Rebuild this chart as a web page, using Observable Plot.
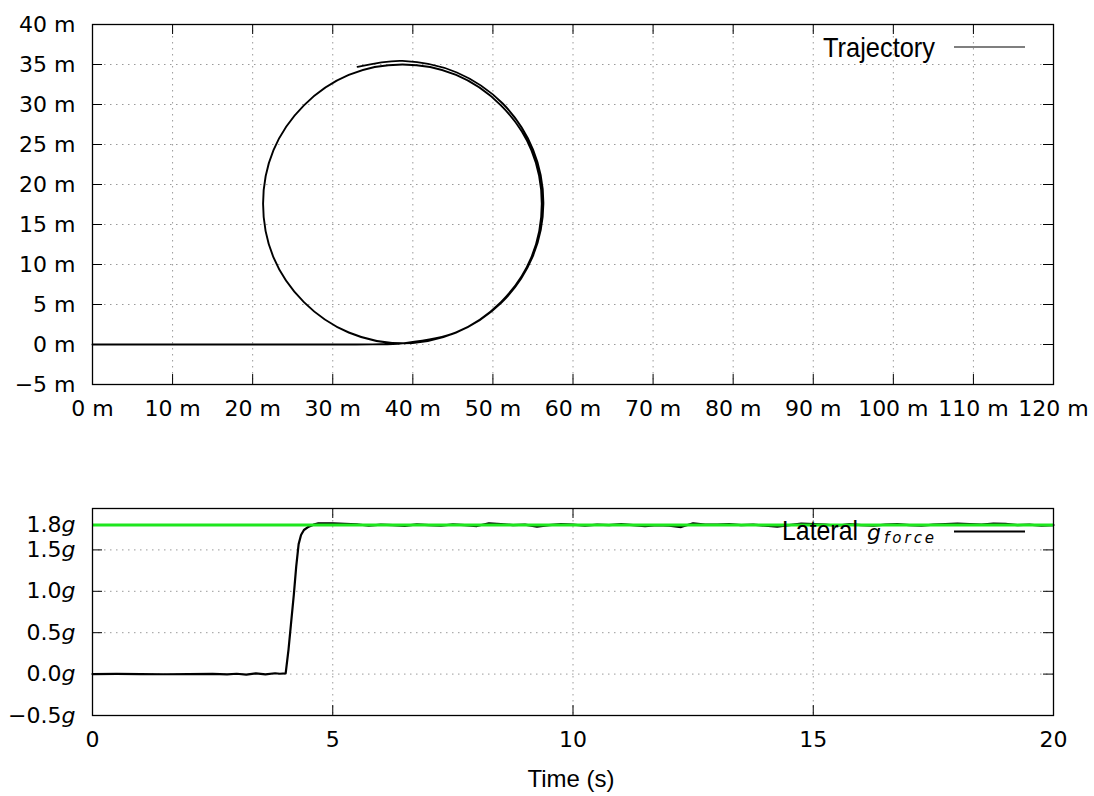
<!DOCTYPE html>
<html><head><meta charset="utf-8">
<script src="https://cdn.jsdelivr.net/npm/d3@7"></script>
<script src="https://cdn.jsdelivr.net/npm/@observablehq/plot@0.6"></script>
<style>
html,body{margin:0;padding:0;background:#fff;}
#wrap{position:relative;width:1094px;height:796px;overflow:hidden}
#wrap svg{display:block}
#overlay{position:absolute;left:0;top:0;pointer-events:none}
</style></head><body><div id="wrap"></div>
<script>
// ---- Data ----
const trajX = [0, 10, 20, 30, 35, 38.7,
  45.4, 51.0, 54.8, 56.1, 54.8, 51.0, 45.4, 38.7, 32.0, 26.4, 22.6, 21.3, 22.6, 26.4, 32.0, 38.7,
  45.38, 51.07, 54.92, 56.3, 55.01, 51.22, 45.5, 38.7, 33.1];
const trajY = [0, 0, 0, 0, 0.02, 0.15,
  1.5, 5.3, 10.9, 17.6, 24.3, 29.9, 33.7, 35.0, 33.7, 29.9, 24.3, 17.6, 10.9, 5.3, 1.5, 0.15,
  1.48, 5.23, 10.88, 17.6, 24.36, 30.12, 34.0, 35.45, 34.7];
const xTicksTop = [0, 10, 20, 30, 40, 50, 60, 70, 80, 90, 100, 110, 120];
const yTicksTop = [-5, 0, 5, 10, 15, 20, 25, 30, 35, 40];

const timeS = [0, 0.5, 1.0, 1.5, 2.0, 2.5, 2.8, 3.0, 3.2, 3.4, 3.6, 3.8, 3.9, 4.02,
  4.08, 4.13, 4.19, 4.24, 4.29, 4.34, 4.4, 4.5, 4.6, 4.7, 4.85,
  5.0, 5.25, 5.5, 5.75, 6.0, 6.25, 6.5, 6.75, 7.0, 7.25, 7.5, 7.75, 8.0, 8.25, 8.5, 8.75,
  9.0, 9.25, 9.5, 9.75, 10.0, 10.25, 10.5, 10.75, 11.0, 11.25, 11.5, 11.75, 12.0, 12.25, 12.5, 12.75,
  13.0, 13.25, 13.5, 13.75, 14.0, 14.25, 14.5, 14.75, 15.0, 15.25, 15.5, 15.75, 16.0, 16.25, 16.5, 16.75,
  17.0, 17.25, 17.5, 17.75, 18.0, 18.25, 18.5, 18.75, 19.0, 19.25, 19.5, 19.75, 20.0];
const gLateral = [0, 0.002, 0, -0.002, 0, 0.003, -0.003, 0.004, -0.006, 0.008, -0.004, 0.01, 0.004, 0.008,
  0.3, 0.6, 0.96, 1.3, 1.57, 1.68, 1.74, 1.78, 1.805, 1.82, 1.822,
  1.82, 1.815, 1.81, 1.792, 1.805, 1.80, 1.79, 1.808, 1.80, 1.792, 1.808, 1.80, 1.788, 1.822, 1.812, 1.80,
  1.806, 1.782, 1.80, 1.812, 1.806, 1.792, 1.806, 1.80, 1.812, 1.80, 1.788, 1.80, 1.792, 1.776, 1.822, 1.806,
  1.806, 1.812, 1.80, 1.806, 1.792, 1.782, 1.80, 1.818, 1.812, 1.806, 1.792, 1.812, 1.80, 1.792, 1.806, 1.812,
  1.80, 1.792, 1.806, 1.812, 1.818, 1.812, 1.806, 1.818, 1.815, 1.80, 1.806, 1.792, 1.80];
const gTarget = 1.8;
const xTicksBottom = [0, 5, 10, 15, 20];
const yTicksBottom = [-0.5, 0, 0.5, 1.0, 1.5, 1.8];

// ---- Rendering ----
const W = 1094;
const wrap = document.getElementById("wrap");
const grid = {stroke: "#9a9a9a", strokeWidth: 1, strokeDasharray: "1.5,4.5", strokeOpacity: 1};
const fmtM = d => (d < 0 ? "\u2212" + (-d) : String(d)) + " m";
const baseStyle = {fontFamily: "DejaVu Sans", fontSize: "22px", color: "#000", background: "transparent", overflow: "visible"};

const traj = trajX.map((x, i) => ({x, y: trajY[i]}));
const H1 = 430, mt1 = 24, mb1 = 46, ml = 92, mr = 41;
const ph1 = H1 - mt1 - mb1, pw = W - ml - mr, tk = 10;

const topChart = Plot.plot({
  width: W, height: H1, marginLeft: ml, marginRight: mr, marginTop: mt1, marginBottom: mb1,
  style: baseStyle,
  x: {domain: [0, 120], ticks: xTicksTop, tickFormat: fmtM, tickSize: 0, tickPadding: 16, label: null},
  y: {domain: [-5, 40], ticks: yTicksTop, tickFormat: fmtM, tickSize: 0, tickPadding: 17, label: null},
  marks: [
    Plot.ruleX(xTicksTop.slice(1, -1), {x: d => d, ...grid}),
    Plot.ruleY(yTicksTop.slice(1, -1), {y: d => d, ...grid}),
    Plot.tickX(xTicksTop.slice(1, -1), {x: d => d, insetTop: ph1 - tk, stroke: "#000"}),
    Plot.tickX(xTicksTop.slice(1, -1), {x: d => d, insetBottom: ph1 - tk, stroke: "#000"}),
    Plot.tickY(yTicksTop.slice(1, -1), {y: d => d, insetRight: pw - tk, stroke: "#000"}),
    Plot.tickY(yTicksTop.slice(1, -1), {y: d => d, insetLeft: pw - tk, stroke: "#000"}),
    Plot.line(traj, {x: "x", y: "y", curve: "catmull-rom", stroke: "#000", strokeWidth: 1.9}),
    Plot.frame({stroke: "#000", strokeWidth: 1.3})
  ]
});
wrap.appendChild(topChart);

const gSeries = timeS.map((t, i) => ({t, g: gLateral[i]}));
const fmtG = d => (d < 0 ? "\u2212" : "") + Math.abs(d).toFixed(1) + "g";
const H2 = 366, mt2 = 78, mb2 = 81;
const ph2 = H2 - mt2 - mb2;

const bottomChart = Plot.plot({
  width: W, height: H2, marginLeft: ml, marginRight: mr, marginTop: mt2, marginBottom: mb2,
  style: baseStyle,
  x: {domain: [0, 20], ticks: xTicksBottom, tickFormat: d => String(d), tickSize: 0, tickPadding: 16, label: null},
  y: {domain: [-0.5, 2.0], ticks: yTicksBottom, tickFormat: fmtG, tickSize: 0, tickPadding: 17, label: null},
  marks: [
    Plot.ruleX(xTicksBottom.slice(1, -1), {x: d => d, ...grid}),
    Plot.ruleY(yTicksBottom.slice(1, -1), {y: d => d, ...grid}),
    Plot.tickX(xTicksBottom.slice(1, -1), {x: d => d, insetTop: ph2 - tk, stroke: "#000"}),
    Plot.tickX(xTicksBottom.slice(1, -1), {x: d => d, insetBottom: ph2 - tk, stroke: "#000"}),
    Plot.tickY(yTicksBottom.slice(1, -1), {y: d => d, insetRight: pw - tk, stroke: "#000"}),
    Plot.tickY(yTicksBottom.slice(1, -1), {y: d => d, insetLeft: pw - tk, stroke: "#000"}),
    Plot.line(gSeries, {x: "t", y: "g", stroke: "#000", strokeWidth: 2.2}),
    Plot.ruleY([gTarget], {y: d => d, stroke: "#1ee61e", strokeWidth: 3}),
    Plot.frame({stroke: "#000", strokeWidth: 1.3})
  ]
});
wrap.appendChild(bottomChart);

// italic "g" unit in the lower y tick labels
d3.select(bottomChart).selectAll("text").each(function () {
  const m = /^(\u2212?[\d.]+)g$/.exec(this.textContent);
  if (!m) return;
  const t = d3.select(this);
  t.text(null);
  t.append("tspan").text(m[1]);
  t.append("tspan").attr("font-style", "italic").text("g");
});

// legends and axis title overlay
const ov = d3.select(wrap).append("svg").attr("id", "overlay").attr("width", W).attr("height", 796);
ov.append("text").attr("x", 823).attr("y", 57).attr("font-family", "Liberation Sans").attr("font-size", 28)
  .attr("textLength", 112).attr("lengthAdjust", "spacingAndGlyphs").text("Trajectory");
ov.append("line").attr("x1", 954).attr("x2", 1025).attr("y1", 47).attr("y2", 47).attr("stroke", "#555").attr("stroke-width", 1.5);

ov.append("text").attr("x", 782).attr("y", 540).attr("font-family", "Liberation Sans").attr("font-size", 28)
  .attr("textLength", 76).attr("lengthAdjust", "spacingAndGlyphs").text("Lateral");
ov.append("text").attr("x", 867).attr("y", 540).attr("font-family", "DejaVu Sans").attr("font-style", "italic").attr("font-size", 22).text("g");
ov.append("text").attr("x", 884).attr("y", 543).attr("font-family", "DejaVu Sans").attr("font-style", "italic").attr("font-size", 15)
  .attr("letter-spacing", 3).text("force");
ov.append("line").attr("x1", 954).attr("x2", 1025).attr("y1", 531.5).attr("y2", 531.5).attr("stroke", "#000").attr("stroke-width", 2);

ov.append("text").attr("x", 571).attr("y", 787).attr("text-anchor", "middle").attr("font-family", "Liberation Sans").attr("font-size", 24).text("Time (s)");
</script>
</body></html>
